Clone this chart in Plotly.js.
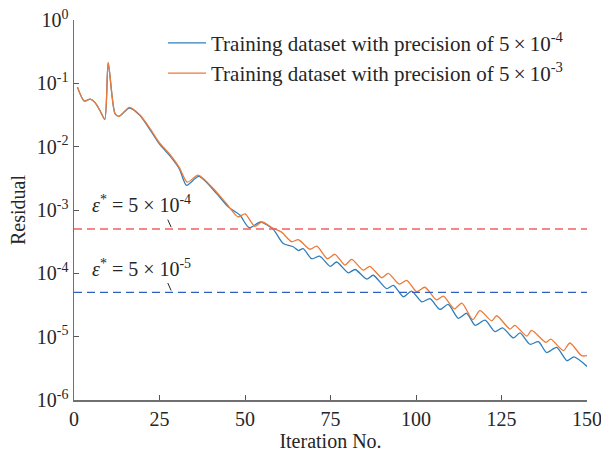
<!DOCTYPE html>
<html>
<head>
<meta charset="utf-8">
<script src="https://cdn.plot.ly/plotly-3.0.1.min.js"></script>
<style>
  html, body { margin: 0; padding: 0; background: #fff; }
  #chart { width: 601px; height: 453px; }
</style>
</head>
<body>
<div id="chart"></div>
<script>
// Residual history of the two training runs (iteration, residual)
const iterFine = [1, 3, 4.7, 6.1, 7.6, 9, 10, 12, 13.2, 16.2, 19.3, 22.3, 24.9, 28, 30.8,
  32.9, 36.5, 41.7, 45.1, 48.5, 51.2, 54.6, 58.3, 61.2, 64.1, 65.6, 67, 69.5, 71.9,
  74.9, 76.8, 80.2, 82.2, 85.6, 87.5, 91.4, 93.4, 96.3, 98.7, 101.7, 104.1, 107, 109.4,
  112.4, 114.8, 117.3, 120.2, 123.1, 125.3, 128.5, 130.4, 133.3, 135.8, 138.2, 141.1,
  144.2, 146.2, 150];
const residFine = [0.0871, 0.0525, 0.0562, 0.0501, 0.0372, 0.0269, 0.211, 0.0331, 0.0302,
  0.0407, 0.0309, 0.0182, 0.0112, 0.00724, 0.00447,
  0.00245, 0.00339, 0.00182, 0.00112, 8.32e-4, 5.25e-4, 6.46e-4, 4.90e-4, 2.95e-4,
  2.63e-4, 2.29e-4, 2.45e-4, 1.70e-4, 1.86e-4,
  1.29e-4, 1.51e-4, 1.02e-4, 1.15e-4, 8.13e-5, 9.33e-5, 5.75e-5, 6.46e-5, 4.27e-5,
  5.25e-5, 3.55e-5, 3.98e-5, 2.69e-5, 3.24e-5,
  1.95e-5, 2.34e-5, 1.51e-5, 1.82e-5, 1.20e-5, 1.38e-5, 9.55e-6, 1.15e-5, 7.59e-6,
  8.32e-6, 5.62e-6, 6.76e-6, 4.17e-6, 4.79e-6, 3.39e-6];

const iterCoarse = [1, 3, 4.7, 6.1, 7.6, 9, 10, 12, 13.2, 16.2, 19.3, 22.3, 24.9, 28, 30.8,
  33.1, 36.3, 40.7, 44.6, 48, 50, 52.9, 54.9, 58.3, 60.7, 63.6, 65.6, 69, 71,
  74.1, 76.3, 79.2, 81.2, 84.6, 86.5, 90, 91.9, 95.1, 97.3, 100.2, 102.6, 106, 108,
  111.2, 113.4, 116.6, 118.7, 122.1, 123.6, 127.5, 128.9, 132.4, 133.8, 138, 139.4,
  143.1, 145, 148.4, 150];
const residCoarse = [0.0871, 0.0525, 0.0562, 0.0501, 0.0372, 0.0269, 0.214, 0.0331, 0.0302,
  0.0417, 0.0316, 0.0191, 0.0117, 0.00759, 0.00468,
  0.00275, 0.00355, 0.00219, 0.00126, 7.76e-4, 8.71e-4, 5.50e-4, 6.46e-4, 5.13e-4,
  4.47e-4, 3.16e-4, 3.39e-4, 2.40e-4, 2.69e-4,
  1.70e-4, 2.00e-4, 1.35e-4, 1.66e-4, 1.12e-4, 1.29e-4, 8.51e-5, 1.00e-4, 6.76e-5,
  7.76e-5, 5.13e-5, 6.03e-5, 3.80e-5, 4.37e-5,
  2.75e-5, 3.39e-5, 1.86e-5, 2.57e-5, 1.78e-5, 2.14e-5, 1.32e-5, 1.51e-5, 1.02e-5,
  1.26e-5, 8.13e-6, 9.12e-6, 6.03e-6, 7.94e-6, 5.01e-6, 5.01e-6];

// Convergence thresholds
const thresholdX = [0, 150];
const epsCoarse = 5e-4;
const epsFine = 5e-5;

// Axis ticks
const xTicks = [0, 25, 50, 75, 100, 125, 150];
const yTickVals = [1, 1e-1, 1e-2, 1e-3, 1e-4, 1e-5, 1e-6];
const yTickText = ['10<sup>0</sup>', '10<sup>-1</sup>', '10<sup>-2</sup>', '10<sup>-3</sup>',
  '10<sup>-4</sup>', '10<sup>-5</sup>', '10<sup>-6</sup>'];

const serif = 'Liberation Serif, Times New Roman, serif';
const ink = '#262626';

const traces = [
  {
    x: iterFine, y: residFine, type: 'scatter', mode: 'lines',
    name: 'Training dataset with precision of 5\u2009\u00d7\u200910<sup>-4</sup>',
    line: { color: '#2e7ebc', width: 1.3, shape: 'spline', smoothing: 0.7 }
  },
  {
    x: iterCoarse, y: residCoarse, type: 'scatter', mode: 'lines',
    name: 'Training dataset with precision of 5\u2009\u00d7\u200910<sup>-3</sup>',
    line: { color: '#ee7a37', width: 1.3, shape: 'spline', smoothing: 0.7 }
  },
  {
    x: thresholdX, y: [epsCoarse, epsCoarse], type: 'scatter', mode: 'lines',
    showlegend: false, hoverinfo: 'skip',
    line: { color: '#f46060', width: 1.4, dash: '8px,5px' }
  },
  {
    x: thresholdX, y: [epsFine, epsFine], type: 'scatter', mode: 'lines',
    showlegend: false, hoverinfo: 'skip',
    line: { color: '#2f60bd', width: 1.4, dash: '8px,5px' }
  }
];

function epsLabel(exp, level) {
  return [
    {
      x: 19.7, y: Math.log10(level) + 0.39, xref: 'x', yref: 'y',
      text: '<i>\u03b5</i><sup>*</sup> = 5 \u00d7 10<sup>' + exp + '</sup>',
      showarrow: false, xanchor: 'center', yanchor: 'middle',
      font: { family: serif, size: 20, color: ink }
    },
    {
      x: 28.4, y: Math.log10(level) + 0.03, xref: 'x', yref: 'y',
      text: '', showarrow: true, arrowhead: 0, arrowwidth: 1,
      arrowcolor: ink, ax: -4, ay: -9, standoff: 0
    }
  ];
}

const layout = {
  width: 601, height: 453,
  margin: { l: 74, r: 14, t: 20, b: 53 },
  paper_bgcolor: '#fff', plot_bgcolor: '#fff',
  font: { family: serif, size: 20, color: ink },
  showlegend: true,
  legend: {
    x: 0.1735, y: 0.993, xanchor: 'left', yanchor: 'top',
    bgcolor: 'rgba(0,0,0,0)', borderwidth: 0, itemwidth: 38,
    font: { family: serif, size: 21, color: ink },
    tracegroupgap: 0
  },
  xaxis: {
    range: [0, 150], tickvals: xTicks, ticks: 'inside', ticklen: 5, tickwidth: 1,
    tickcolor: '#555', showline: true, linecolor: '#707070', linewidth: 1.5,
    showgrid: false, zeroline: false, mirror: false, ticklabeloverflow: 'allow',
    tickfont: { family: serif, size: 20, color: ink },
    title: { text: 'Iteration No.', font: { family: serif, size: 20, color: ink }, standoff: 4 }
  },
  yaxis: {
    type: 'log', range: [-6, 0], tickvals: yTickVals, ticktext: yTickText,
    ticks: 'inside', ticklen: 5, tickwidth: 1, tickcolor: '#555',
    showline: true, linecolor: '#707070', linewidth: 1.5,
    showgrid: false, zeroline: false, mirror: false, ticklabeloverflow: 'allow',
    tickfont: { family: serif, size: 20, color: ink },
    title: { text: 'Residual', font: { family: serif, size: 20, color: ink }, standoff: 6 }
  },
  annotations: [].concat(epsLabel('-4', epsCoarse), epsLabel('-5', epsFine))
};

Plotly.newPlot('chart', traces, layout, { displayModeBar: false, staticPlot: true });
</script>
</body>
</html>
